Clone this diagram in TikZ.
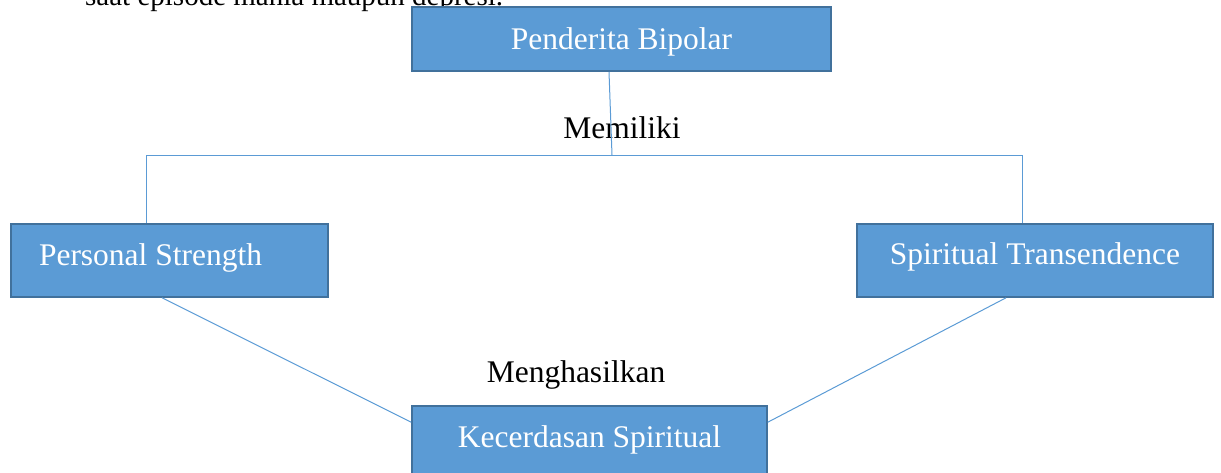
\documentclass[tikz,border=0pt]{standalone}
\usepackage{fontspec}
\setmainfont{Liberation Serif}
\usetikzlibrary{calc}
\definecolor{boxfill}{HTML}{5B9BD5}
\definecolor{boxline}{HTML}{41719C}
\definecolor{conn}{HTML}{5B9BD5}
\tikzset{
  box/.style={draw=boxline, line width=1.6pt, fill=boxfill, text=white, inner ysep=0pt, inner xsep=0pt,
    font=\fontsize{31.5}{36}\selectfont, anchor=base},
  lbl/.style={font=\fontsize{31.5}{36}\selectfont, text=black, inner sep=0pt, anchor=base},
  link/.style={draw=conn, line width=1pt}
}
\begin{document}
\begin{tikzpicture}[x=1pt,y=-1pt]
\useasboundingbox (0,0) rectangle (1221,472);
\clip (0,0) rectangle (1221,472);
% cropped page text at the top
\node[lbl, font=\fontsize{29}{34}\selectfont, anchor=base west] (top) at (85,5) {saat episode mania maupun depresi.};
% boxes
\node[box, minimum width=419, text height=42, text depth=22] (pb) at (621.5,49) {Penderita Bipolar};
\node[box, inner xsep=28pt, text height=41, text depth=32] (ps) at (169.5,265) {\makebox[261pt][l]{Personal Strength}};
\node[box, minimum width=356, text height=40, text depth=33] (st) at (1035,264) {Spiritual Transendence};
\node[box, minimum width=355, text height=41, text depth=32] (ks) at (589.5,447) {Kecerdasan Spiritual};
% labels
\node[lbl] (mem) at (622,138) {Memiliki};
\node[lbl] (meng) at (576,382) {Menghasilkan};
% connectors
\coordinate (j) at (612,155);
\coordinate (jl) at (146,155);
\coordinate (jr) at (1022,155);
\draw[link] ($(pb.south)+(-12.5,0)$) -- (j);
\draw[link] (jl) -- (jr);
\draw[link] (jl) -- (jl |- ps.north);
\draw[link] (jr) -- (jr |- st.north);
\draw[link] ($(ps.south)+(-7.5,0)$) -- ($(ks.north west)+(0,17)$);
\draw[link] ($(st.south)+(-29,0)$) -- ($(ks.north east)+(0,17)$);
\end{tikzpicture}
\end{document}
